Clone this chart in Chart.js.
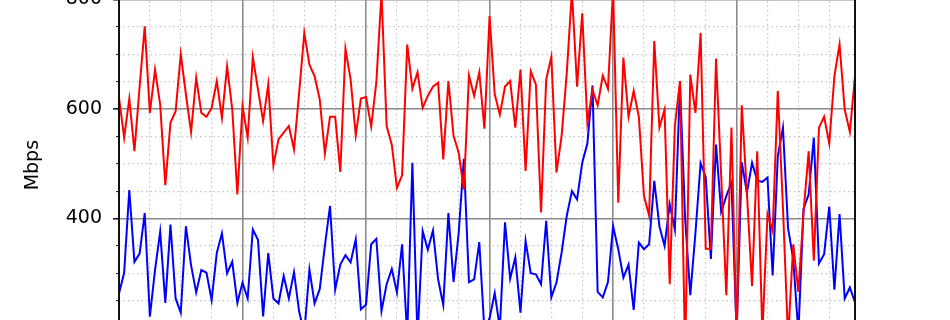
<!DOCTYPE html>
<html>
<head>
<meta charset="utf-8">
<script src="https://cdn.jsdelivr.net/npm/chart.js@4.4.1/dist/chart.umd.min.js"></script>
<style>
  html, body { margin: 0; padding: 0; background: #fff; width: 950px; height: 320px; overflow: hidden; }
  /* the chart is bigger than the window: top and bottom are cut off like in the reference */
  #wrap { position: absolute; left: 0; top: -40px; width: 950px; height: 420px; }
</style>
</head>
<body>
<div id="wrap"><canvas id="c"></canvas></div>
<script>
// ===== data (Mbps per sample) =====
const redMbps = [
  621, 548, 619, 523, 640, 751, 593, 672, 608, 461,
  575, 596, 700, 627, 558, 657, 593, 586, 602, 651,
  584, 678, 600, 444, 605, 548, 695, 636, 578, 645,
  497, 545, 557, 569, 526, 630, 739, 681, 660, 618,
  519, 586, 586, 485, 710, 654, 552, 619, 622, 568,
  649, 812, 569, 535, 456, 479, 718, 637, 667, 602,
  624, 641, 648, 508, 651, 551, 520, 453, 661, 624,
  667, 564, 770, 627, 590, 641, 651, 566, 672, 487,
  669, 645, 411, 654, 695, 484, 551, 666, 815, 641,
  775, 575, 635, 607, 661, 637, 820, 429, 694, 586,
  633, 586, 441, 405, 724, 566, 599, 280, 569, 651,
  150, 663, 593, 739, 345, 345, 692, 478, 260, 566,
  180, 607, 447, 277, 523, 190, 408, 377, 633, 420,
  180, 353, 266, 411, 523, 323, 566, 586, 537, 660,
  718, 599, 558, 660
];
const blueMbps = [
  263, 301, 452, 321, 336, 410, 221, 306, 376, 246,
  389, 254, 228, 386, 315, 265, 306, 301, 251, 337,
  373, 300, 321, 246, 283, 254, 380, 361, 221, 337,
  254, 245, 295, 254, 302, 230, 190, 307, 245, 271,
  350, 423, 270, 316, 333, 320, 362, 234, 243, 353,
  363, 231, 280, 308, 265, 353, 185, 502, 180, 377,
  343, 378, 289, 242, 410, 284, 374, 509, 284, 289,
  357, 195, 218, 264, 200, 393, 290, 329, 228, 359,
  300, 298, 280, 396, 256, 283, 338, 405, 450, 435,
  502, 537, 643, 266, 256, 284, 386, 344, 292, 316,
  233, 356, 344, 353, 469, 386, 350, 426, 380, 645,
  399, 260, 374, 501, 475, 326, 535, 412, 441, 466,
  190, 503, 447, 502, 469, 467, 475, 296, 514, 566,
  382, 326, 190, 418, 444, 548, 318, 335, 422, 270,
  408, 254, 274, 247
];
const yLabel = 'Mbps';

// tick positions (only the visible part of the axis)
const yMajorTicks = [400, 600, 800];
const yMinorTicks = [200, 250, 300, 350, 400, 450, 500, 550, 600, 650, 700, 750, 800];
const xMajorTicks = [0, 24, 48, 72, 96, 120];
const xMinorTicks = [0, 6, 12, 18, 24, 30, 36, 42, 48, 54, 60, 66, 72, 78, 84, 90, 96, 102, 108, 114, 120, 126, 132, 138];

// ===== axis look (matplotlib-ish) =====
const FONT = { family: 'DejaVu Sans', size: 19 };
const MAJOR_GRID = '#8c8c8c';
const MINOR_GRID = '#c4c4c4';

const toPoints = arr => arr.map((v, i) => ({ x: i, y: v }));
const useTicks = list => s => { s.ticks = list.map(v => ({ value: v })); };
const lastIdx = redMbps.length - 1;

// 外框（上下左右四条 spine）
const framePlugin = {
  id: 'frame',
  afterDatasetsDraw(chart) {
    const { ctx, chartArea: a } = chart;
    ctx.save();
    ctx.strokeStyle = '#111';
    ctx.lineWidth = 2;
    ctx.strokeRect(a.left, a.top, a.right - a.left, a.bottom - a.top);
    ctx.restore();
  },
};

new Chart(document.getElementById('c'), {
  type: 'line',
  plugins: [framePlugin],
  data: {
    datasets: [
      { data: toPoints(redMbps), borderColor: '#ff0000', borderWidth: 2, pointRadius: 0, tension: 0, clip: 0 },
      { data: toPoints(blueMbps), borderColor: '#0000ff', borderWidth: 2, pointRadius: 0, tension: 0, clip: 0 },
    ],
  },
  options: {
    responsive: true,
    maintainAspectRatio: false,
    animation: false,
    events: [],
    layout: { padding: { top: 36.8, right: 95, bottom: 0, left: 0 } },
    plugins: { legend: { display: false }, tooltip: { enabled: false } },
    scales: {
      // 次网格（虚线）
      xMinor: {
        type: 'linear', position: 'bottom', min: 0, max: lastIdx, weight: 0,
        afterBuildTicks: useTicks(xMinorTicks),
        ticks: { display: false },
        grid: { color: MINOR_GRID, lineWidth: 1.2, drawTicks: false },
        border: { display: false, dash: [1.5, 3] },
        afterFit: s => { s.height = 0; },
      },
      x: {
        type: 'linear', position: 'bottom', min: 0, max: lastIdx, weight: 1,
        afterBuildTicks: useTicks(xMajorTicks),
        ticks: { display: false },
        grid: { color: MAJOR_GRID, lineWidth: 1.6, drawTicks: false },
        border: { display: false },
        afterFit: s => { s.height = 46.5; },
      },
      yMinor: {
        type: 'linear', position: 'left', min: 190, max: 805, weight: 0,
        afterBuildTicks: useTicks(yMinorTicks),
        ticks: { display: false },
        grid: { color: MINOR_GRID, lineWidth: 1.2, drawTicks: true, tickLength: 3, tickColor: '#111', tickWidth: 1 },
        border: { display: false, dash: [1.5, 3] },
        afterFit: s => { s.width = 0; },
      },
      y: {
        type: 'linear', position: 'left', min: 190, max: 805, weight: 1,
        afterBuildTicks: useTicks(yMajorTicks),
        ticks: { padding: 11, color: '#000', font: FONT },
        grid: { color: MAJOR_GRID, lineWidth: 1.6, tickLength: 6, tickColor: '#111', tickWidth: 1.5 },
        border: { display: false },
        title: { display: true, text: yLabel, color: '#000', font: FONT, padding: { top: 22, bottom: 0 } },
        afterFit: s => { s.width = 119; },
      },
    },
  },
});
</script>
</body>
</html>
